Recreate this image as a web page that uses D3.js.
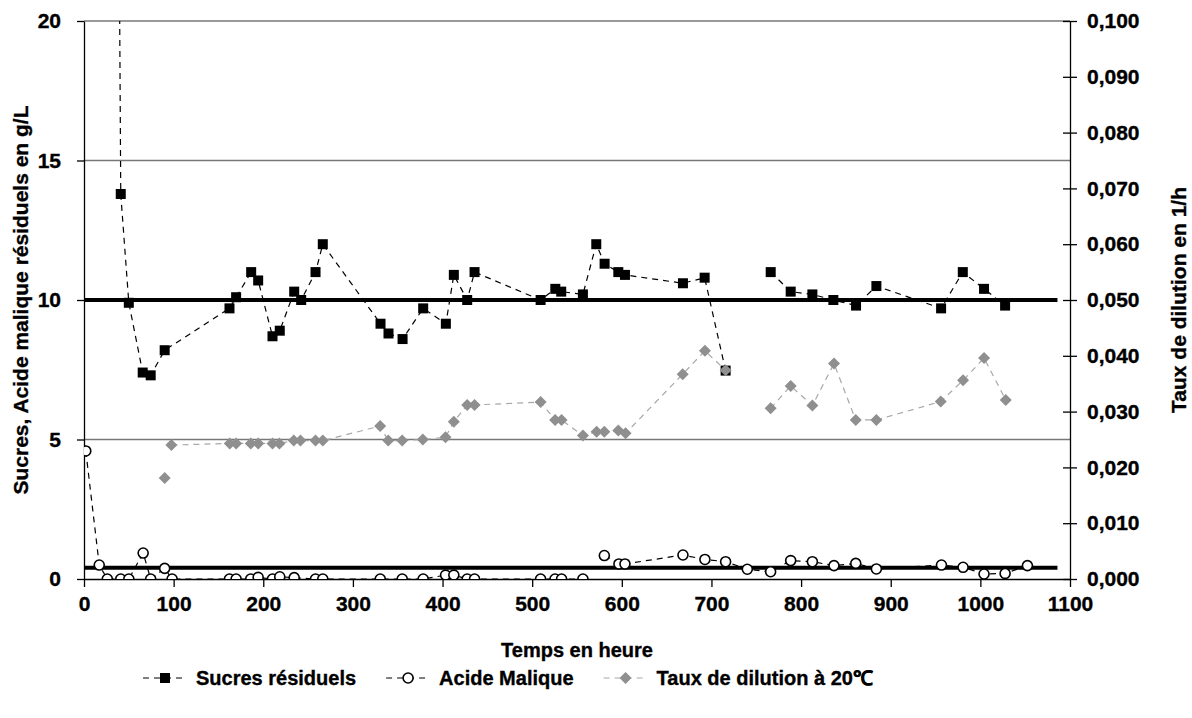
<!DOCTYPE html>
<html>
<head>
<meta charset="utf-8">
<script src="https://cdn.jsdelivr.net/npm/d3@7"></script>
<style>
  body { margin: 0; background: #fff; }
  svg { display: block; font-family: "Liberation Sans", Arial, sans-serif; font-weight: bold; }
  svg text { stroke: #000; stroke-width: 0.35px; }
</style>
</head>
<body>
<div class="canvas"></div>
<script>
"use strict";

// Sucres résiduels (g/L), null = break in the line
const sucresTime = [2, 41, 50, 65.5, 74.4, 90, 162.3, 169.7, 186.5, 194.3, 210.3, 218.4, 234.5, 242.3, 258.3, 266.4,
  330.8, 339.7, 355.4, 378.4, 403.7, 412.6, 427.5, 435.7, 509.4, 525.8, 532.4, 556.6, 571.5, 580.8, 596.1, 603.5,
  668.2, 692.4, 715.8, 740, 766.1, 788.4, 812.6, 836, 861.3, 884, 956.2, 980.4, 1004.1, 1027.6];
const sucresValues = [220, 13.8, 9.9, 7.4, 7.3, 8.2, 9.7, 10.1, 11.0, 10.7, 8.7, 8.9, 10.3, 10.0, 11.0, 12.0,
  9.15, 8.8, 8.6, 9.7, 9.15, 10.9, 10.0, 11.0, 10.0, 10.4, 10.3, 10.2, 12.0, 11.3, 11.0, 10.9,
  10.6, 10.8, 7.47, null, 11.0, 10.3, 10.2, 10.0, 9.8, 10.5, 9.7, 11.0, 10.4, 9.8];

// Acide malique (g/L)
const maliqueTime = [2, 17, 26, 41, 50, 66, 74.4, 90, 98.3, 162.3, 169.7, 186, 194.3, 210.3, 218.4, 234.5, 258.3, 266.4,
  330.5, 355, 378.4, 403.4, 412.6, 427.5, 435.7, 509.4, 525.5, 532.8, 556.6, 568, 580.5, 596.8, 603.5, 668.2, 692.7,
  715.8, 740, 766, 788.4, 812.6, 836.7, 861, 884, 956.6, 980.7, 1004.1, 1027.6, 1052.5];
const maliqueValues = [4.59, 0.5, 0, 0, 0, 0.93, 0, 0.38, 0, 0, 0, 0, 0.06, 0, 0.08, 0.05, 0, 0,
  0, 0, 0, 0.14, 0.14, 0, 0, 0, 0, 0, 0, null, 0.84, 0.54, 0.54, 0.86, 0.7,
  0.62, 0.35, 0.26, 0.66, 0.62, 0.48, 0.56, 0.36, 0.5, 0.42, 0.18, 0.2, 0.48];

// Taux de dilution à 20°C (1/h), right axis
const tauxTime = [90, 94, 97.5, 162.6, 169.7, 186, 194.3, 210.3, 218, 234, 241.5, 258.3, 266.4, 330.4, 339.4, 355,
  378, 403.3, 412.6, 427.5, 435.7, 509.4, 525.6, 532.8, 556.6, 571.9, 580.5, 596.1, 604.2, 667.9, 692.7, 715.8,
  740, 766, 788.4, 812.6, 836.7, 861, 884, 955.8, 980.7, 1004.1, 1028.3];
const tauxValues = [0.0181, null, 0.024, 0.0243, 0.0243, 0.0243, 0.0243, 0.0243, 0.0243, 0.0248, 0.0248, 0.0248, 0.0248,
  0.0274, 0.0248, 0.0248, 0.025, 0.0254, 0.0282, 0.0312, 0.0312, 0.0317, 0.0285, 0.0285, 0.0257, 0.0264, 0.0264,
  0.0266, 0.0261, 0.0367, 0.0409, 0.0374, null, 0.0306, 0.0346, 0.0311, 0.0386, 0.0285, 0.0285, 0.0318, 0.0356,
  0.0396, 0.0321];

// Reference levels (thick lines)
const refTime = [0, 1086];
const refSucres = [10, 10];
const refMalique = [0.4, 0.4];

const xTicks = d3.range(0, 1101, 100);
const yLeftTicks = [0, 5, 10, 15, 20];
const yRightTicks = d3.range(0, 0.1001, 0.01);
const gridValues = [5, 15, 20];

const labels = {
  x: "Temps en heure",
  yLeft: "Sucres, Acide malique résiduels en g/L",
  yRight: "Taux de dilution en 1/h",
  legend: ["Sucres résiduels", "Acide Malique", "Taux de dilution à 20℃"],
};

const width = 1192;
const height = 718;
const dims = { left: 84, right: 1070, top: 21, bottom: 579 };

const svg = d3.select(".canvas").append("svg").attr("width", width).attr("height", height);

const x = d3.scaleLinear().domain([0, 1100]).range([dims.left, dims.right]);
const y = d3.scaleLinear().domain([0, 20]).range([dims.bottom, dims.top]);
const y2 = d3.scaleLinear().domain([0, 0.1]).range([dims.bottom, dims.top]);

svg.append("clipPath").attr("id", "plot-clip")
  .append("rect")
  .attr("x", dims.left).attr("y", dims.top)
  .attr("width", dims.right - dims.left).attr("height", dims.bottom - dims.top);

// gridlines
svg.append("g").selectAll("line").data(gridValues).join("line")
  .attr("x1", dims.left).attr("x2", dims.right)
  .attr("y1", (d) => y(d)).attr("y2", (d) => y(d))
  .attr("stroke", "#777").attr("stroke-width", 1.3);

// axes
const tickFont = 21;
const titleFont = 20;
const xAxis = svg.append("g").attr("transform", `translate(0, ${dims.bottom})`)
  .call(d3.axisBottom(x).tickValues(xTicks).tickSize(8).tickPadding(9).tickSizeOuter(0).tickFormat(d3.format("d")));
const yAxis = svg.append("g").attr("transform", `translate(${dims.left}, 0)`)
  .call(d3.axisLeft(y).tickValues(yLeftTicks).tickSize(7).tickPadding(16).tickSizeOuter(0));
const y2Axis = svg.append("g").attr("transform", `translate(${dims.right}, 0)`)
  .call(d3.axisRight(y2).tickValues(yRightTicks).tickSize(7).tickPadding(10).tickSizeOuter(0)
    .tickFormat((d) => d3.format(".3f")(d).replace(".", ",")));
y2Axis.selectAll(".tick line").attr("x1", -7);

[xAxis, yAxis, y2Axis].forEach((g) => {
  g.attr("font-family", null).attr("font-size", null);
  g.select(".domain").attr("stroke", "#000").attr("stroke-width", 1.3);
  g.selectAll(".tick line").attr("stroke", "#000").attr("stroke-width", 1.3);
  g.selectAll("text").attr("font-size", tickFont).attr("fill", "#000");
});

// axis titles
svg.append("text").text(labels.x)
  .attr("x", (dims.left + dims.right) / 2).attr("y", 657)
  .attr("text-anchor", "middle").attr("font-size", titleFont);
svg.append("text").text(labels.yLeft)
  .attr("transform", `translate(28, ${(dims.top + dims.bottom) / 2}) rotate(-90)`)
  .attr("text-anchor", "middle").attr("font-size", titleFont + 1);
svg.append("text").text(labels.yRight)
  .attr("transform", `translate(1186, ${(dims.top + dims.bottom) / 2}) rotate(-90)`)
  .attr("text-anchor", "middle").attr("font-size", titleFont + 1);

const plot = svg.append("g").attr("clip-path", "url(#plot-clip)");

// reference lines
const refLine = (vals, axis) => d3.line().x((d, i) => x(refTime[i])).y((d) => axis(d))(vals);
plot.append("path").attr("d", refLine(refSucres, y)).attr("stroke", "#000").attr("stroke-width", 4).attr("fill", "none");
plot.append("path").attr("d", refLine(refMalique, y)).attr("stroke", "#000").attr("stroke-width", 4).attr("fill", "none");

const series = [
  { name: labels.legend[0], time: sucresTime, values: sucresValues, axis: y, line: "#000", marker: "square" },
  { name: labels.legend[1], time: maliqueTime, values: maliqueValues, axis: y, line: "#000", marker: "circle" },
  { name: labels.legend[2], time: tauxTime, values: tauxValues, axis: y2, line: "#a8a8a8", marker: "diamond" },
];

const drawMarker = (g, type, cx, cy) => {
  if (type === "square") {
    g.append("rect").attr("x", cx - 5).attr("y", cy - 5).attr("width", 10).attr("height", 10).attr("fill", "#000");
  } else if (type === "circle") {
    g.append("circle").attr("cx", cx).attr("cy", cy).attr("r", 5)
      .attr("fill", "#fff").attr("stroke", "#000").attr("stroke-width", 1.6);
  } else {
    g.append("path").attr("d", `M${cx},${cy - 6}L${cx + 6},${cy}L${cx},${cy + 6}L${cx - 6},${cy}Z`).attr("fill", "#8f8f8f");
  }
};

series.forEach((s) => {
  const pts = s.time.map((t, i) => [t, s.values[i]]);
  const line = d3.line()
    .defined((d) => d[1] !== null)
    .x((d) => x(d[0]))
    .y((d) => s.axis(d[1]));
  plot.append("path").attr("d", line(pts))
    .attr("fill", "none").attr("stroke", s.line).attr("stroke-width", 1.2).attr("stroke-dasharray", "6,5");
  const mg = plot.append("g");
  pts.filter((d) => d[1] !== null).forEach((d) => drawMarker(mg, s.marker, x(d[0]), s.axis(d[1])));
});

// legend
const legend = svg.append("g").attr("transform", "translate(143, 0)");
const legendY = 678;
let cursor = 0;
series.forEach((s) => {
  const item = legend.append("g").attr("transform", `translate(${cursor}, 0)`);
  item.append("line").attr("x1", 0).attr("x2", 44).attr("y1", legendY).attr("y2", legendY)
    .attr("stroke", s.line).attr("stroke-width", 1.2).attr("stroke-dasharray", "6,5");
  drawMarker(item, s.marker, 22, legendY);
  const txt = item.append("text").text(s.name).attr("x", 53).attr("y", legendY + 7).attr("font-size", titleFont);
  cursor += 53 + txt.node().getComputedTextLength() + 30;
});
</script>
</body>
</html>
